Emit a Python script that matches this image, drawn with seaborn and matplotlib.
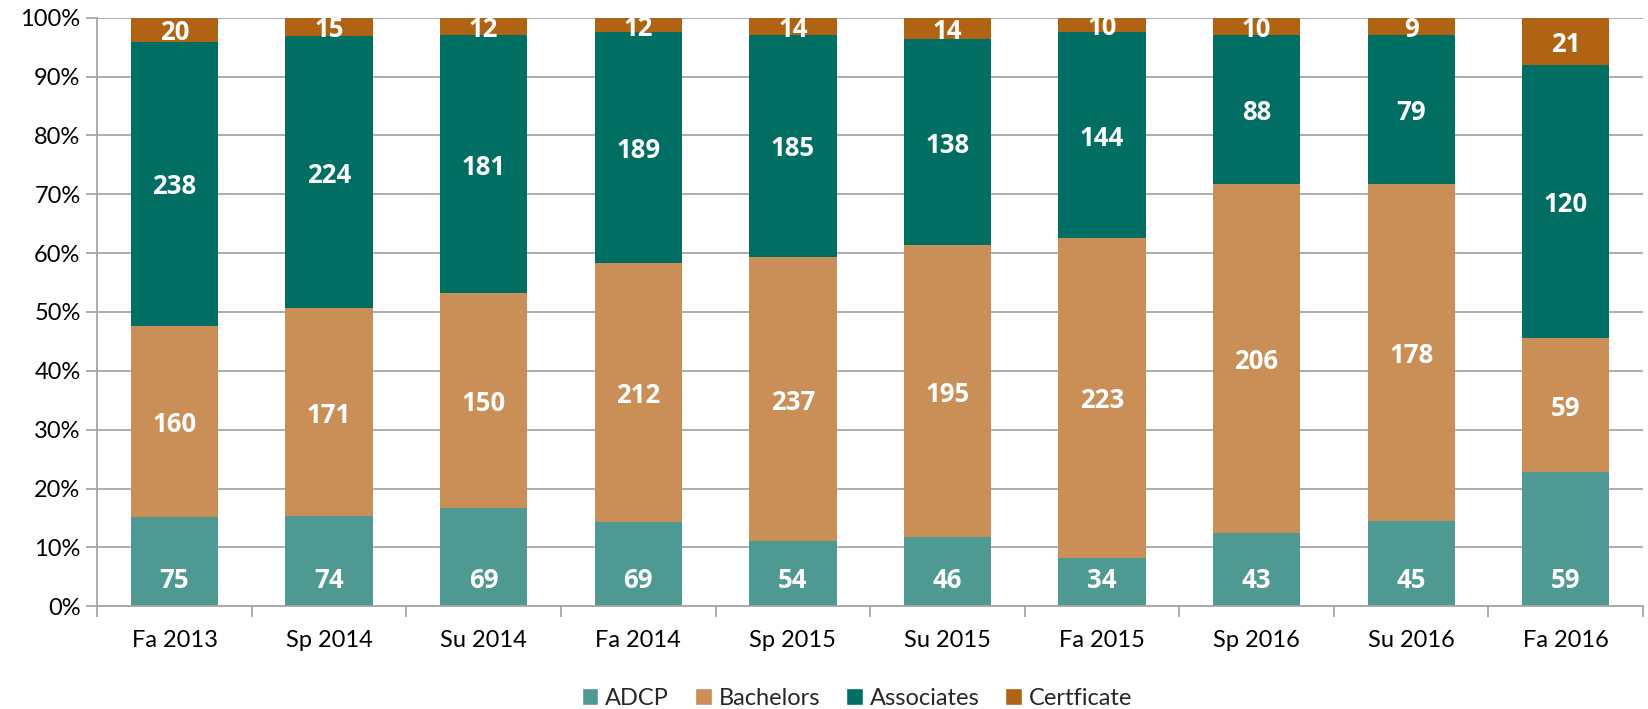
import numpy as np
import pandas as pd
import matplotlib.pyplot as plt
import seaborn as sns
from matplotlib.patches import Patch
from matplotlib.ticker import PercentFormatter

terms = ["Fa 2013", "Sp 2014", "Su 2014", "Fa 2014", "Sp 2015",
         "Su 2015", "Fa 2015", "Sp 2016", "Su 2016", "Fa 2016"]
adcp = [75, 74, 69, 69, 54, 46, 34, 43, 45, 59]
bachelors = [160, 171, 150, 212, 237, 195, 223, 206, 178, 59]
associates = [238, 224, 181, 189, 185, 138, 144, 88, 79, 120]
certificate = [20, 15, 12, 12, 14, 14, 10, 10, 9, 21]

series = ["ADCP", "Bachelors", "Associates", "Certficate"]
colors = ["#4E9A92", "#C98F56", "#006E63", "#B06313"]

df = pd.DataFrame({"term": terms, "ADCP": adcp, "Bachelors": bachelors,
                   "Associates": associates, "Certficate": certificate})
total = df[series].sum(axis=1)
pct = df[series].div(total, axis=0) * 100
cum = pct.cumsum(axis=1)

sns.set_theme(style="white")
plt.rcParams["font.family"] = ["Lato", "DejaVu Sans"]

fig, ax = plt.subplots(figsize=(16.48, 7.09), dpi=100)
fig.subplots_adjust(left=0.059, right=0.997, top=0.975, bottom=0.145)

# draw cumulative layers from the top down so each covers the one above
for s, c in reversed(list(zip(series, colors))):
    sns.barplot(x=df["term"], y=cum[s], color=c, width=0.565,
                saturation=1, linewidth=0, ax=ax, zorder=2)

# value labels (bottom series sits at the base, others centred)
lbl = dict(ha="center", va="center_baseline", color="white", fontsize=18.5,
           fontweight="bold", family=["Open Sans", "DejaVu Sans"], zorder=3)
for i in range(len(terms)):
    for s in series:
        if s == "ADCP":
            ax.annotate(str(df.loc[i, s]), (i, 0), xytext=(0, 21),
                        textcoords="offset points", **lbl)
        else:
            mid = cum.loc[i, s] - pct.loc[i, s] / 2
            ax.text(i, mid, str(df.loc[i, s]), **lbl)

ax.set_ylim(0, 100)
ax.set_xlim(-0.5, len(terms) - 0.5)
ax.set_yticks(np.arange(0, 101, 10))
ax.yaxis.set_major_formatter(PercentFormatter(decimals=0))
ax.yaxis.grid(True, color="#A6A6A6", linewidth=1.3, zorder=0)
ax.set_axisbelow(True)
ax.set_xlabel("")
ax.set_ylabel("")

for side in ["top", "right"]:
    ax.spines[side].set_visible(False)
for side in ["left", "bottom"]:
    ax.spines[side].set_color("#A6A6A6")
    ax.spines[side].set_linewidth(1.3)

ax.tick_params(axis="y", left=True, length=8, width=1.3, color="#A6A6A6",
               labelsize=17, labelcolor="#000000", pad=4)
ax.tick_params(axis="x", bottom=False, labelsize=17, labelcolor="#000000", pad=11)
ax.set_xticks(np.arange(len(terms)), terms)
ax.set_xticks(np.arange(-0.5, len(terms)), minor=True)
ax.tick_params(axis="x", which="minor", bottom=True, length=8, width=1.3,
               color="#A6A6A6")

handles = [Patch(facecolor=c, label=s) for s, c in zip(series, colors)]
fig.legend(handles=handles, loc="lower center", ncol=4, frameon=False,
           fontsize=17, handlelength=0.7, handleheight=0.7,
           handletextpad=0.3, columnspacing=1.1, bbox_to_anchor=(0.52, -0.03))

fig.savefig("out.png", dpi=100)
